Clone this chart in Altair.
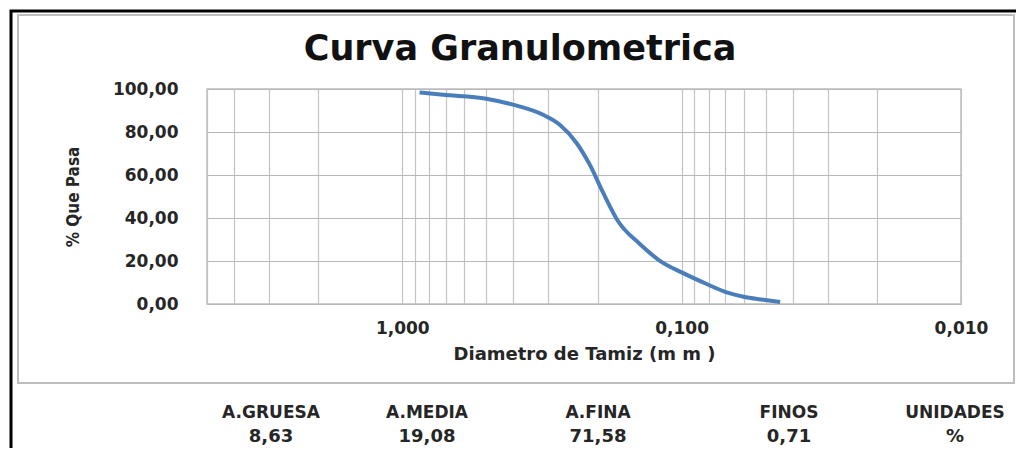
import altair as alt
import pandas as pd

# ---- data ----
diametro = [0.867, 0.715, 0.500, 0.4015, 0.3133, 0.2730, 0.2378, 0.2132, 0.1910,
            0.1688, 0.1411, 0.1196, 0.100, 0.0813, 0.0690, 0.0601, 0.0510, 0.0444]
pasa = [98.4, 97.3, 95.5, 92.7, 88.0, 83.4, 74.9, 64.8, 51.8,
        38.5, 27.9, 20.1, 14.7, 9.3, 5.4, 3.4, 2.0, 0.9]

grid_x = [5, 4, 3, 2, 1, 0.9, 0.8, 0.7, 0.6, 0.5, 0.4, 0.3, 0.2,
          0.1, 0.09, 0.08, 0.07, 0.06, 0.05, 0.04, 0.03, 0.02, 0.01]
y_ticks = [0, 20, 40, 60, 80, 100]

titulo = "Curva Granulometrica"
tabla_etiquetas = ["A.GRUESA", "A.MEDIA", "A.FINA", "FINOS", "UNIDADES"]
tabla_valores = ["8,63", "19,08", "71,58", "0,71", "%"]

# ---- layout (pixels, relative to the plot area origin) ----
W, H = 754, 215
PAD = {"left": 199, "top": 81, "right": 55, "bottom": 144}
OX, OY = 207, 89  # page position of plot origin
tabla_x = [271, 427, 598, 789, 955]
ETQ_Y = 418 - OY
VAL_Y = 442 - OY
TXT = "#262626"
FONT = "DejaVu Sans"

df = pd.DataFrame({"d": diametro, "p": pasa})

curva = alt.Chart(df).mark_line(
    color="#4A7EBB", strokeWidth=4, interpolate="monotone"
).encode(
    x=alt.X(
        "d:Q",
        scale=alt.Scale(type="log", domain=[0.01, 5], reverse=True, nice=False),
        axis=alt.Axis(
            values=grid_x,
            labelExpr="(datum.value == 1 || datum.value == 0.1 || datum.value == 0.01) ? replace(format(datum.value, '.3f'), '.', ',') : ''",
            labelOverlap=False, labelFlush=False, labelBound=False,
            labelFont=FONT, labelFontWeight="bold", labelFontSize=17, labelColor=TXT,
            labelBaseline="alphabetic", labelPadding=29,
            ticks=False, domain=False,
            grid=True, gridColor="#c4c4c4", gridWidth=1.2,
            title="Diametro de Tamiz (m m )",
            titleFont=FONT, titleFontWeight="bold", titleFontSize=18, titleColor=TXT,
            titleBaseline="alphabetic", titleY=55,
        ),
    ),
    y=alt.Y(
        "p:Q",
        scale=alt.Scale(domain=[0, 100], nice=False),
        axis=alt.Axis(
            values=y_ticks,
            labelExpr="replace(format(datum.value, '.2f'), '.', ',')",
            labelFont=FONT, labelFontWeight="bold", labelFontSize=17, labelColor=TXT,
            labelPadding=29,
            ticks=False, domain=False,
            grid=True, gridColor="#b8b8b8", gridWidth=1.2,
            title="% Que Pasa",
            titleFont="Liberation Sans Narrow, DejaVu Sans Condensed, sans-serif",
            titleFontWeight="bold", titleFontSize=17, titleColor=TXT,
            titleX=-134, titleY=H / 2, titleAngle=270,
            titleBaseline="middle", titleAlign="center",
        ),
    ),
    order=alt.Order("d:Q", sort="descending"),
)

dummy = pd.DataFrame({"k": [0]})

marco_negro = alt.Chart(dummy).mark_rect(
    fillOpacity=0, stroke="black", strokeWidth=3
).encode(
    x=alt.value(11 - OX), x2=alt.value(1040 - OX),
    y=alt.value(11 - OY), y2=alt.value(480 - OY),
)

marco_gris = alt.Chart(dummy).mark_rect(
    fillOpacity=0, stroke="#bdbdbd", strokeWidth=2
).encode(
    x=alt.value(18 - OX), x2=alt.value(1014 - OX),
    y=alt.value(15 - OY), y2=alt.value(383 - OY),
)

texto_titulo = alt.Chart(pd.DataFrame({"t": [titulo]})).mark_text(
    font=FONT, fontWeight="bold", fontSize=35, color="#111111",
    align="center", baseline="alphabetic",
).encode(text="t:N", x=alt.value(520 - OX), y=alt.value(60 - OY))

capas = [marco_negro, marco_gris, curva, texto_titulo]
for etq, val, px in zip(tabla_etiquetas, tabla_valores, tabla_x):
    capas.append(
        alt.Chart(pd.DataFrame({"t": [etq]})).mark_text(
            font=FONT, fontWeight="bold", fontSize=17, color=TXT,
            align="center", baseline="alphabetic",
        ).encode(text="t:N", x=alt.value(px - OX), y=alt.value(ETQ_Y))
    )
    capas.append(
        alt.Chart(pd.DataFrame({"t": [val]})).mark_text(
            font=FONT, fontWeight="bold", fontSize=18, color=TXT,
            align="center", baseline="alphabetic",
        ).encode(text="t:N", x=alt.value(px - OX), y=alt.value(VAL_Y))
    )

chart = alt.layer(*capas).properties(
    width=W,
    height=H,
    padding=PAD,
    autosize=alt.AutoSizeParams(type="none"),
    background="white",
).configure_view(stroke="#bdbdbd", strokeWidth=1.5)

chart.save("out.html", embed_options={"renderer": "svg", "actions": False})
